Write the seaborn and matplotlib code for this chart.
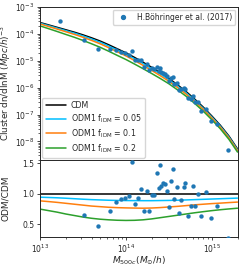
import numpy as np
import pandas as pd
import seaborn as sns
import matplotlib.pyplot as plt
from matplotlib.lines import Line2D

# model curves, log10(M) grid
log_mass = [13.0, 13.1, 13.2, 13.3, 13.4, 13.5, 13.6, 13.7, 13.8, 13.9, 14.0, 14.1,
            14.2, 14.3, 14.4, 14.5, 14.6, 14.7, 14.8, 14.9, 15.0, 15.1, 15.2, 15.3]
cdm_log_n = [-3.57, -3.66, -3.75, -3.84, -3.93, -4.03, -4.14, -4.26, -4.40, -4.55, -4.70, -4.87,
             -5.05, -5.24, -5.44, -5.65, -5.89, -6.14, -6.42, -6.72, -7.05, -7.40, -7.80, -8.28]
ratio_f005 = [0.945, 0.940, 0.935, 0.928, 0.920, 0.912, 0.905, 0.900, 0.895, 0.892, 0.890, 0.889,
              0.888, 0.888, 0.890, 0.892, 0.895, 0.900, 0.905, 0.910, 0.915, 0.920, 0.925, 0.930]
ratio_f01 = [0.885, 0.873, 0.860, 0.845, 0.830, 0.815, 0.800, 0.790, 0.780, 0.774, 0.770, 0.767,
             0.765, 0.768, 0.775, 0.785, 0.795, 0.807, 0.820, 0.830, 0.840, 0.848, 0.857, 0.865]
ratio_f02 = [0.750, 0.725, 0.700, 0.670, 0.645, 0.620, 0.600, 0.585, 0.575, 0.568, 0.565, 0.567,
             0.575, 0.590, 0.610, 0.630, 0.650, 0.670, 0.690, 0.708, 0.725, 0.740, 0.753, 0.765]

# Boehringer et al. (2017) clusters
obs_mass = [1.71e13, 3.27e13, 4.72e13, 6.52e13, 7.71e13, 8.87e13, 9.82e13, 1.10e14, 1.19e14,
            1.27e14, 1.38e14, 1.49e14, 1.62e14, 1.74e14, 1.87e14, 2.02e14, 2.13e14, 2.28e14,
            2.40e14, 2.48e14, 2.59e14, 2.72e14, 2.86e14, 3.00e14, 3.18e14, 3.32e14, 3.49e14,
            3.66e14, 3.89e14, 4.13e14, 4.42e14, 4.69e14, 4.92e14, 5.24e14, 5.78e14, 6.01e14,
            6.46e14, 6.97e14, 7.55e14, 8.51e14, 9.73e14, 1.14e15, 1.56e15]
obs_n = [3.1e-4, 5.89e-5, 2.82e-5, 2.70e-5, 2.57e-5, 2.19e-5, 1.92e-5, 1.64e-5, 2.25e-5,
         1.10e-5, 1.06e-5, 1.07e-5, 6.17e-6, 7.80e-6, 4.72e-6, 5.55e-6, 4.97e-6, 5.90e-6,
         4.35e-6, 5.45e-6, 3.82e-6, 3.63e-6, 3.19e-6, 2.63e-6, 1.73e-6, 2.40e-6, 2.49e-6,
         1.43e-6, 1.52e-6, 8.0e-7, 8.97e-7, 9.55e-7, 8.87e-7, 4.06e-7, 3.92e-7, 4.90e-7,
         2.84e-7, 2.84e-7, 1.41e-7, 1.55e-7, 5.94e-8, 4.57e-8, 4.75e-9]
obs_ratio = [1.87, 0.655, 0.478, 0.713, 0.867, 0.912, 0.938, 0.972, 1.517,
             0.830, 0.925, 1.072, 0.722, 1.047, 0.722, 0.987, 0.987, 1.333,
             1.097, 1.467, 1.12, 1.178, 1.158, 1.053, 0.787, 1.203, 1.412,
             0.913, 1.117, 0.68, 0.903, 1.117, 1.17, 0.633, 0.808, 1.125,
             0.80, 1.005, 0.637, 1.022, 0.608, 0.805, 0.284]

sns.set_style("ticks")
plt.rcParams['font.family'] = ['DejaVu Sans']

mass = 10 ** np.array(log_mass)
cdm = 10 ** np.array(cdm_log_n)
models = [
    ('CDM', np.ones(len(mass)), 'black'),
    (r'ODM1 f$_{\rm IDM}$ = 0.05', np.array(ratio_f005), 'deepskyblue'),
    (r'ODM1 f$_{\rm IDM}$ = 0.1', np.array(ratio_f01), 'tab:orange'),
    (r'ODM1 f$_{\rm IDM}$ = 0.2', np.array(ratio_f02), 'tab:green'),
]
obs = pd.DataFrame({'mass': obs_mass, 'n': obs_n, 'ratio': obs_ratio})

fig, (ax, axr) = plt.subplots(2, 1, sharex=True, figsize=(2.4, 2.68), dpi=100,
                              gridspec_kw={'height_ratios': [2, 1], 'hspace': 0})
fig.subplots_adjust(left=0.167, right=0.99, top=0.973, bottom=0.117)

line_handles = []
for name, ratio, col in models:
    df = pd.DataFrame({'mass': mass, 'n': cdm * ratio, 'ratio': ratio})
    sns.lineplot(data=df, x='mass', y='n', color=col, lw=1.1, ax=ax, legend=False)
    sns.lineplot(data=df, x='mass', y='ratio', color=col, lw=1.1, ax=axr, legend=False)
    line_handles.append(Line2D([], [], color=col, lw=1.1))

sns.scatterplot(data=obs, x='mass', y='n', color='tab:blue', s=10, linewidth=0, ax=ax,
                legend=False, zorder=5)
sns.scatterplot(data=obs, x='mass', y='ratio', color='tab:blue', s=10, linewidth=0, ax=axr,
                legend=False, zorder=5)

ax.set_xscale('log')
ax.set_yscale('log')
ax.set_xlim(1e13, 2e15)
ax.set_ylim(2e-9, 1e-3)
axr.set_ylim(0.3, 1.55)
axr.set_yticks([0.5, 1.0, 1.5])

dot = Line2D([], [], ls='none', marker='o', ms=2.8, color='tab:blue')
leg1 = ax.legend(handles=[dot], labels=['H.Böhringer et al. (2017)'],
                 loc='upper right', fontsize=5.5, handletextpad=0.8, borderaxespad=0.3)
ax.add_artist(leg1)
ax.legend(handles=line_handles, labels=[m[0] for m in models], loc='lower left',
          fontsize=5.7, handlelength=2.6, borderaxespad=0.3, labelspacing=0.3,
          handletextpad=0.6)

ax.set_ylabel(r'Cluster dn/dlnM $(Mpc/h)^{-3}$', fontsize=6.3)
axr.set_ylabel('ODM/CDM', fontsize=6.5)
ax.yaxis.set_label_coords(-0.135, 0.5)
axr.yaxis.set_label_coords(-0.15, 0.5)
axr.set_xlabel(r'$M_{500c}(M_{\odot}/h)$', fontsize=6.5, labelpad=0)
ax.set_xlabel('')
for a in (ax, axr):
    a.tick_params(labelsize=5.5, length=2.5, width=0.6, pad=1.5)
    a.tick_params(which='minor', length=1.5, width=0.5)
    for s in a.spines.values():
        s.set_linewidth(0.7)

fig.savefig('out.png', dpi=100)
